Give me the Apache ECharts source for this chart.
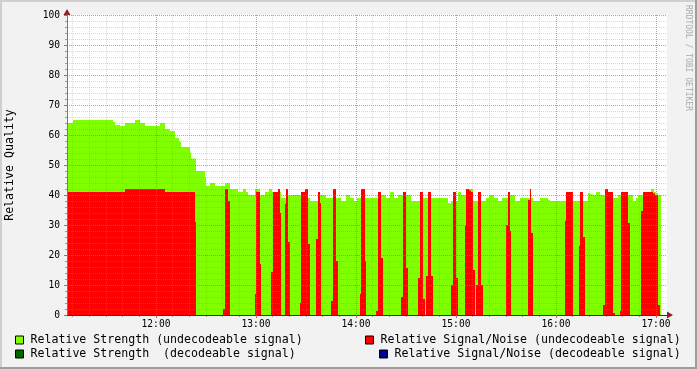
<!DOCTYPE html>
<html><head><meta charset="utf-8">
<script src="https://cdn.jsdelivr.net/npm/echarts@6/dist/echarts.min.js"></script>
<style>html,body{margin:0;padding:0;background:#f2f2f2}#c{width:697px;height:369px}</style>
</head><body><div id="c"></div>
<script>
// times are minutes after 11:00; each value holds until the next time
const strengthTimes = [6.6,7.2,10.2,34.2,35.4,38.4,41.4,47.4,50.4,53.4,62.4,65.4,68.4,71.4,73.8,75,80.4,81,84,89.4,90,92.4,95.4,101.4,104.4,109.2,112.2,114,115.2,119.4,122.4,125.4,127.8,129.6,135,138,151.2,152.4,158.4,162,171,174,176.4,178.8,180.6,195,198,200.4,202.8,205.2,213,220.2,235.2,237,241.2,243,247.2,250.2,258,259.8,262.8,265.2,267.6,272.4,275.4,278.4,286.2,290.4,295.2,296.4,319.2,320.4,322.2,324,326.4,334.2,337.2,346.2,348,349.2,355.8,357,358.8,360,361.2,363];
const strengthValues = [65.3,64,65,64.3,63.3,63,64,65,64,63,64,62,61.3,59,57.8,56,54.2,52.2,48,46,43,44,43,44,42,41,42,41,40,42,40,41,42,41,39,40,39,38,40,39,38,40,39,38,39,40,39,41,39,40,38,39,37.3,38,41,40,42,38,39,40,39,38,39,40,38,39,38,39,38.3,38,40.7,40.3,40,41,40,39,40,38,39,40,41,42,41,40.5,40,40];
const snrTimes = [6.6,41.4,65.4,83.4,84,100.2,101.4,103.2,104.4,119.4,120,122.4,123,129,130.2,133.2,134.4,135,137.4,138,139.2,140.4,146.4,147,149.4,151.2,152.4,156,157.2,158.4,159,165,166.2,168,169.2,182.4,183,185.4,186,192,193.2,195,196.2,207,208.2,210,211.2,217.2,218.4,220.2,221.4,222,223.2,225,226.2,237,238.2,240,241.2,245.4,246,247.8,249,250.2,251.4,252,253.2,255,256.2,270,271.2,272.4,273,283.2,284.4,285,286.2,305.4,306,310.2,313.8,314.4,316.2,317.4,328.2,329.4,331.2,334.2,335.4,338.4,339,343.2,344.4,351,352.2,358.2,359.4,361.2,362.4,363];
const snrValues = [41,42,41,31,0,2,42,38,0,7,41,17,0,14.3,41,42,34,0,37,42,24.3,0,4,41,42,23.7,0,25.3,41,37.3,0,4.7,42,18,0,7,42,18,0,1.3,41,19,0,6,41,15.7,0,12.3,41,5.3,0,13,41,13,0,10,41,12.3,0,30,42,41.5,41,15,0,10,41,10,0,30,41,28,0,38.3,42,27.3,0,31.3,41,0,23,41,26,0,3.3,42,41,0.7,0,1.3,41,30.7,0,34.7,41,40.5,40,3.3,0,0];
const hourTicks = [60,120,180,240,300,360];
const hourLabels = ['12:00','13:00','14:00','15:00','16:00','17:00'];
const minorTicks = [10,20,30,40,50,60,70,80,90,100,110,120,130,140,150,160,170,180,190,200,210,220,230,240,250,260,270,280,290,300,310,320,330,340,350,360];
const seriesNames = ['Relative Strength (undecodeable signal)','Relative Signal/Noise (undecodeable signal)','Relative Strength  (decodeable signal)','Relative Signal/Noise (decodeable signal)'];
const seriesColors = ['#7fff00','#ff0000','#006400','#00008b'];

const FONT = 'DejaVu Sans Mono';
const X_MIN = 6.6, X_MAX = 366.6;
const MAJOR = 'rgba(222,80,80,0.5)', MINOR = 'rgba(140,140,140,0.35)';
const dotted = [1,1];

function steps(t, v){ const out=[]; for(let i=0;i<t.length-1;i++) out.push([t[i], t[i+1], v[i]]); return out; }
function stepRender(color){
  return function(params, api){
    const t0 = api.value(0), t1 = api.value(1), v = api.value(2);
    if (!(v > 0)) return null;
    const top = api.coord([t0, v]), base = api.coord([t1, 0]);
    const x0 = Math.round(top[0]), x1 = Math.round(base[0]);
    return {type:'rect', shape:{x:x0, y:top[1], width:x1-x0, height:base[1]-top[1]}, style:{fill:color}};
  };
}

const chart = echarts.init(document.getElementById('c'), null, {renderer:'canvas'});
const legendBase = {orient:'horizontal', padding:0, itemWidth:8, itemHeight:8, icon:'rect', selectedMode:false,
  textStyle:{fontFamily:FONT, fontSize:11.6, color:'#000', padding:[0,0,0,2]}, itemStyle:{borderColor:'#000', borderWidth:1}};
chart.setOption({
  animation:false,
  backgroundColor:'#f2f2f2',
  grid:{left:67, right:30, top:15, bottom:54, show:true, backgroundColor:'#fff', borderWidth:0, containLabel:false, outerBoundsMode:'none'},
  legend:[
    Object.assign({left:15, top:334, data:[seriesNames[0]]}, legendBase),
    Object.assign({left:365, top:334, data:[seriesNames[1]]}, legendBase),
    Object.assign({left:15, top:348, data:[seriesNames[2]]}, legendBase),
    Object.assign({left:379, top:348, data:[seriesNames[3]]}, legendBase)
  ],
  xAxis:[
    {type:'value', position:'bottom', min:X_MIN, max:X_MAX, z:4,
     axisLine:{show:true, onZero:false, lineStyle:{color:'#333348', width:1}},
     axisTick:{show:true, customValues:hourTicks, length:3, lineStyle:{color:'#c06060'}},
     axisLabel:{show:true, customValues:hourTicks, margin:4, fontFamily:FONT, fontSize:9.6, color:'#000',
       formatter:(v)=>hourLabels[hourTicks.indexOf(v)]},
     splitLine:{show:true, lineStyle:{color:MAJOR, type:dotted, width:1}}},
    {type:'value', position:'bottom', min:X_MIN, max:X_MAX, z:3,
     axisLine:{show:true, onZero:false, symbol:['none','triangle'], symbolSize:[7,6], symbolOffset:[0,3], lineStyle:{color:'#8b2222', width:1}},
     axisTick:{show:true, customValues:minorTicks, length:2, lineStyle:{color:'#999'}},
     axisLabel:{show:false},
     splitLine:{show:true, lineStyle:{color:MINOR, type:dotted, width:1}}}
  ],
  yAxis:[
    {type:'value', position:'left', min:0, max:100, interval:10, z:4,
     name:'Relative Quality', nameLocation:'middle', nameRotate:90, nameGap:51,
     nameTextStyle:{fontFamily:FONT, fontSize:11.6, color:'#000'},
     axisLine:{show:true, onZero:false, lineStyle:{color:'#777', width:1}},
     axisTick:{show:true, length:3, lineStyle:{color:'#c06060'}},
     axisLabel:{margin:7, fontFamily:FONT, fontSize:9.6, color:'#000'},
     splitLine:{show:true, lineStyle:{color:MAJOR, type:dotted, width:1}}},
    {type:'value', position:'left', min:0, max:100, interval:2, z:3,
     axisLine:{show:true, onZero:false, symbol:['none','triangle'], symbolSize:[7,6], symbolOffset:[0,3], lineStyle:{color:'#8b2222', width:1}},
     axisTick:{show:true, length:2, lineStyle:{color:'#999'}},
     axisLabel:{show:false},
     splitLine:{show:true, lineStyle:{color:MINOR, type:dotted, width:1}}}
  ],
  series:[
    {name:seriesNames[0], type:'custom', silent:true, clip:true, itemStyle:{color:seriesColors[0]},
     encode:{x:[0,1], y:2}, renderItem:stepRender(seriesColors[0]), data:steps(strengthTimes, strengthValues)},
    {name:seriesNames[1], type:'custom', silent:true, clip:true, itemStyle:{color:seriesColors[1]},
     encode:{x:[0,1], y:2}, renderItem:stepRender(seriesColors[1]), data:steps(snrTimes, snrValues)},
    {name:seriesNames[2], type:'line', symbol:'none', itemStyle:{color:seriesColors[2]}, lineStyle:{color:seriesColors[2]}, data:[]},
    {name:seriesNames[3], type:'line', symbol:'none', itemStyle:{color:seriesColors[3]}, lineStyle:{color:seriesColors[3]}, data:[]}
  ],
  graphic:[
    {type:'text', x:688, y:5, rotation:-Math.PI/2, silent:true,
     style:{text:'RRDTOOL / TOBI OETIKER', fill:'#aaaaaa', font:'8px "DejaVu Sans Mono"', textAlign:'left', textVerticalAlign:'middle'}},
    {type:'line', silent:true, shape:{x1:0,y1:1,x2:697,y2:1}, style:{stroke:'#cfcfcf', lineWidth:2}},
    {type:'line', silent:true, shape:{x1:1,y1:0,x2:1,y2:369}, style:{stroke:'#cfcfcf', lineWidth:2}},
    {type:'line', silent:true, shape:{x1:0,y1:368,x2:697,y2:368}, style:{stroke:'#9e9e9e', lineWidth:2}},
    {type:'line', silent:true, shape:{x1:696,y1:0,x2:696,y2:369}, style:{stroke:'#9e9e9e', lineWidth:2}}
  ]
});
</script></body></html>
